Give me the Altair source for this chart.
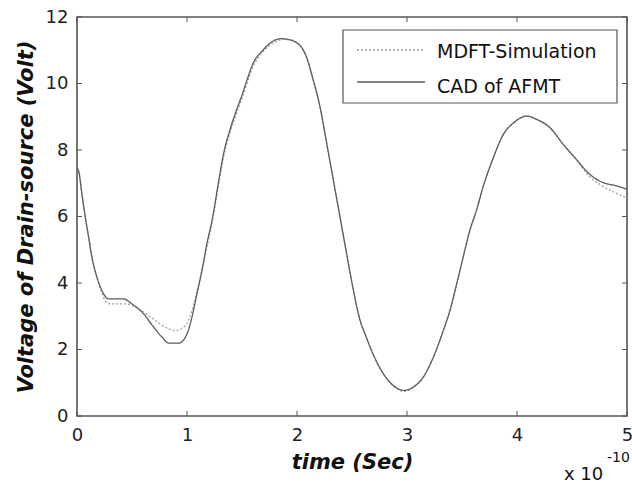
import altair as alt
import pandas as pd

# CAD of AFMT (solid)
t_cad = [0, 0.015, 0.045, 0.076, 0.106, 0.136, 0.182, 0.227, 0.288, 0.424, 0.5, 0.606, 0.697,
         0.773, 0.833, 0.924, 1.0, 1.045, 1.09, 1.136, 1.18, 1.227, 1.3, 1.33, 1.39, 1.45, 1.5,
         1.54, 1.6, 1.69, 1.785, 1.86, 1.906, 1.997, 2.088, 2.148, 2.209, 2.27, 2.33, 2.39,
         2.45, 2.5, 2.57, 2.63, 2.69, 2.785, 2.875, 2.967, 3.057, 3.148, 3.24, 3.33, 3.39,
         3.45, 3.51, 3.57, 3.63, 3.69, 3.785, 3.876, 3.97, 4.09, 4.18, 4.3, 4.42, 4.54, 4.66,
         4.785, 4.906, 5.0]
v_cad = [7.45, 7.37, 6.67, 5.97, 5.37, 4.77, 4.17, 3.77, 3.52, 3.52, 3.37, 3.07, 2.67,
         2.37, 2.19, 2.19, 2.47, 2.97, 3.67, 4.37, 5.17, 5.87, 7.3, 7.85, 8.6, 9.2, 9.65,
         10.05, 10.6, 11.0, 11.28, 11.35, 11.33, 11.23, 10.78, 10.1, 9.3, 8.2, 7.1, 6.0,
         4.9, 4.0, 2.92, 2.37, 1.87, 1.27, 0.92, 0.77, 0.87, 1.17, 1.77, 2.57, 3.17,
         3.95, 4.77, 5.57, 6.17, 6.87, 7.77, 8.47, 8.82, 9.02, 8.92, 8.67, 8.17, 7.72, 7.27,
         7.02, 6.92, 6.82]

# MDFT-Simulation (dotted)
t_mdft = [0, 0.015, 0.045, 0.076, 0.106, 0.136, 0.182, 0.227, 0.26, 0.303, 0.455, 0.56, 0.712,
          0.803, 0.894, 0.985, 1.045, 1.106, 1.167, 1.227, 1.3, 1.33, 1.39, 1.45, 1.5,
          1.54, 1.6, 1.69, 1.785, 1.86, 1.906, 1.997, 2.088, 2.148, 2.209, 2.27, 2.33, 2.39,
          2.45, 2.5, 2.57, 2.63, 2.69, 2.785, 2.875, 2.967, 3.057, 3.148, 3.24, 3.33, 3.39,
          3.45, 3.51, 3.57, 3.63, 3.69, 3.785, 3.876, 3.97, 4.09, 4.18, 4.3, 4.42, 4.54, 4.66,
          4.785, 4.906, 5.0]
v_mdft = [7.45, 7.37, 6.67, 5.97, 5.37, 4.77, 4.15, 3.7, 3.45, 3.37, 3.37, 3.22, 2.87,
          2.67, 2.57, 2.72, 3.17, 3.97, 4.87, 5.8, 7.2, 7.75, 8.5, 9.1, 9.55,
          9.95, 10.5, 10.95, 11.22, 11.32, 11.33, 11.23, 10.78, 10.1, 9.3, 8.2, 7.1, 6.0,
          4.9, 4.0, 2.92, 2.37, 1.87, 1.27, 0.9, 0.74, 0.85, 1.17, 1.77, 2.57, 3.17,
          3.95, 4.77, 5.57, 6.17, 6.87, 7.77, 8.47, 8.82, 9.02, 8.92, 8.67, 8.17, 7.7, 7.2,
          6.9, 6.7, 6.55]

series_names = ["MDFT-Simulation", "CAD of AFMT"]
x_ticks = [0, 1, 2, 3, 4, 5]
y_ticks = [0, 2, 4, 6, 8, 10, 12]

W, H = 550, 399
FONT = "DejaVu Sans"
FRAME = "#555555"
C_MDFT = "#a0a0a0"
C_CAD = "#5c5c5c"

df = pd.concat([
    pd.DataFrame({"t": t_mdft, "v": v_mdft, "series": series_names[0]}),
    pd.DataFrame({"t": t_cad, "v": v_cad, "series": series_names[1]}),
])

xs = alt.Scale(domain=[0, 5], nice=False, zero=False)
ys = alt.Scale(domain=[0, 12], nice=False)

lines = alt.Chart(df).mark_line(strokeWidth=1.3, interpolate="monotone").encode(
    x=alt.X("t:Q", scale=xs, axis=alt.Axis(
        title="time (Sec)", values=x_ticks, format="d", grid=False, ticks=False, domain=False,
        labelFlush=False,
        labelFont=FONT, labelFontSize=18, labelColor="#222222", labelPadding=10,
        titleFont=FONT, titleFontSize=21, titleFontWeight="bold", titleFontStyle="italic",
        titleColor="#111111", titlePadding=7)),
    y=alt.Y("v:Q", scale=ys, axis=alt.Axis(
        title="Voltage of Drain-source (Volt)", values=y_ticks, format="d", grid=False,
        ticks=False, domain=False, labelFlush=False,
        labelFont=FONT, labelFontSize=18, labelColor="#222222", labelPadding=9,
        titleFont=FONT, titleFontSize=21, titleFontWeight="bold", titleFontStyle="italic",
        titleColor="#111111", titlePadding=9)),
    color=alt.Color("series:N", scale=alt.Scale(domain=series_names, range=[C_MDFT, C_CAD]),
                    legend=None),
    strokeDash=alt.StrokeDash("series:N", scale=alt.Scale(domain=series_names, range=[[2, 2], [1, 0]]),
                              legend=None),
    order=alt.Order("t:Q"),
)

xt = pd.DataFrame({"t": x_ticks})
yt = pd.DataFrame({"v": y_ticks})
tick_b = alt.Chart(xt).mark_rule(color=FRAME, strokeWidth=1).encode(
    x=alt.X("t:Q", scale=xs), y=alt.value(H), y2=alt.value(H - 5))
tick_t = alt.Chart(xt).mark_rule(color=FRAME, strokeWidth=1).encode(
    x=alt.X("t:Q", scale=xs), y=alt.value(0), y2=alt.value(5))
tick_l = alt.Chart(yt).mark_rule(color=FRAME, strokeWidth=1).encode(
    y=alt.Y("v:Q", scale=ys), x=alt.value(0), x2=alt.value(5))
tick_r = alt.Chart(yt).mark_rule(color=FRAME, strokeWidth=1).encode(
    y=alt.Y("v:Q", scale=ys), x=alt.value(W), x2=alt.value(W - 5))

# legend box (manual)
one = pd.DataFrame({"k": [0]})
leg_box = alt.Chart(one).mark_rect(fill="white", stroke=FRAME, strokeWidth=1.2).encode(
    x=alt.value(266), x2=alt.value(540), y=alt.value(13), y2=alt.value(86))
leg_l1 = alt.Chart(one).mark_rule(color=C_MDFT, strokeWidth=1.3, strokeDash=[2, 2]).encode(
    x=alt.value(280), x2=alt.value(348), y=alt.value(33))
leg_l2 = alt.Chart(one).mark_rule(color=C_CAD, strokeWidth=1.3).encode(
    x=alt.value(280), x2=alt.value(348), y=alt.value(65))
leg_t1 = alt.Chart(pd.DataFrame({"s": [series_names[0]]})).mark_text(
    font=FONT, fontSize=19, color="#111111", align="left", baseline="alphabetic").encode(
    text="s:N", x=alt.value(360), y=alt.value(41))
leg_t2 = alt.Chart(pd.DataFrame({"s": [series_names[1]]})).mark_text(
    font=FONT, fontSize=19, color="#111111", align="left", baseline="alphabetic").encode(
    text="s:N", x=alt.value(360), y=alt.value(76))

exp_base = alt.Chart(pd.DataFrame({"s": ["x 10"]})).mark_text(
    font=FONT, fontSize=18, color="#111111", align="left", baseline="alphabetic").encode(
    text="s:N", x=alt.value(487), y=alt.value(463))
exp_sup = alt.Chart(pd.DataFrame({"s": ["-10"]})).mark_text(
    font=FONT, fontSize=14, color="#111111", align="left", baseline="alphabetic").encode(
    text="s:N", x=alt.value(530), y=alt.value(445))

chart = alt.layer(lines, tick_b, tick_t, tick_l, tick_r, leg_box, leg_l1, leg_l2, leg_t1, leg_t2,
                  exp_base, exp_sup).properties(
    width=W, height=H,
    autosize=alt.AutoSizeParams(type="none"),
    padding={"left": 77, "top": 17, "right": 5, "bottom": 67},
    background="white",
).configure_view(
    stroke=FRAME, strokeWidth=1.6
)

chart.save("out.html", embed_options={"renderer": "svg", "actions": False})
